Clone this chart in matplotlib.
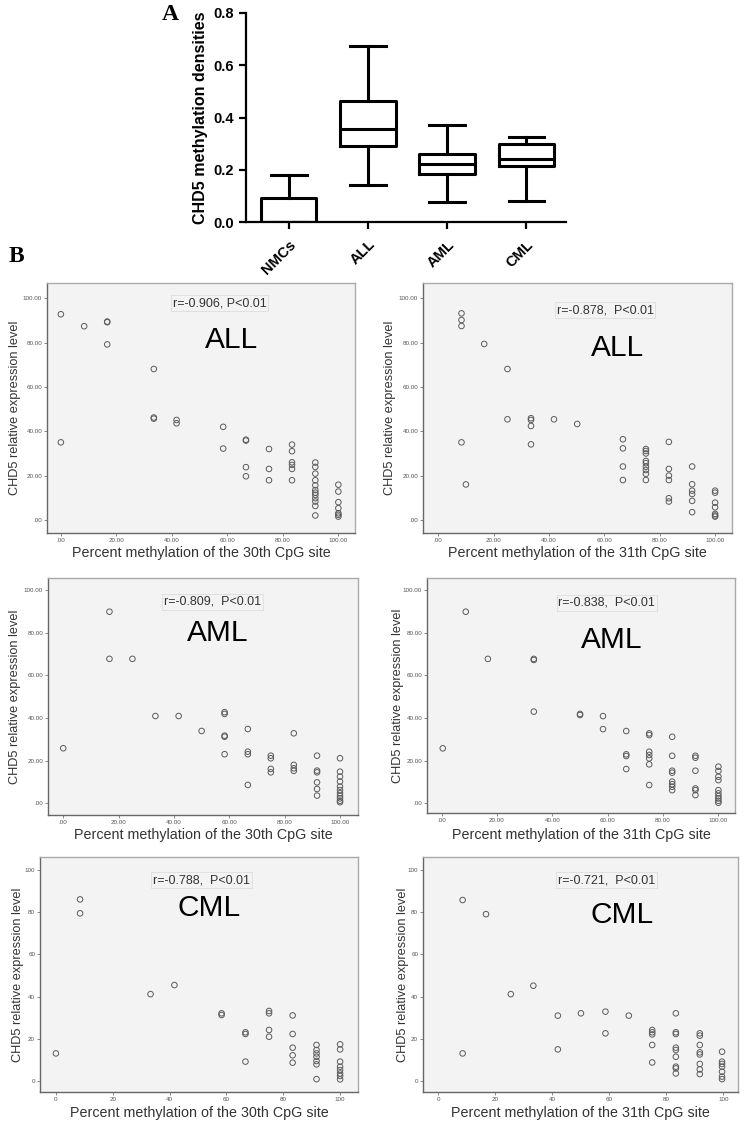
import matplotlib
matplotlib.use("Agg")
import matplotlib.pyplot as plt

plt.rcParams['font.family'] = ['Liberation Sans', 'DejaVu Sans']

# ---------------- Panel A data ----------------
box_labels = ["NMCs", "ALL", "AML", "CML"]
box_min = [0.0, 0.14, 0.075, 0.08]
box_q1 = [0.0, 0.29, 0.185, 0.215]
box_med = [0.0, 0.355, 0.222, 0.24]
box_q3 = [0.09, 0.465, 0.26, 0.30]
box_max = [0.18, 0.675, 0.37, 0.325]

# ---------------- Panel B data ----------------
all30_x = [0, 0, 8.4, 16.7, 16.7, 16.7, 33.5, 33.5, 33.5, 41.7, 41.7, 58.5, 58.5,
           66.7, 66.7, 66.7, 66.7, 75, 75, 75,
           83.3, 83.3, 83.3, 83.3, 83.3, 83.3,
           91.7, 91.7, 91.7, 91.7, 91.7, 91.7, 91.7, 91.7, 91.7, 91.7, 91.7, 91.7,
           100, 100, 100, 100, 100, 100, 100]
all30_y = [92.8, 35, 87.4, 89.5, 89.2, 79.2, 68.1, 45.7, 46.2, 45.1, 43.6, 42, 32.2,
           35.8, 36.2, 23.8, 19.7, 32, 23, 17.9,
           34, 31, 26, 24.8, 23, 17.9,
           25.9, 23.9, 20.9, 17.9, 15.6, 13.5, 12.3, 11.3, 9.8, 8.3, 6.3, 2,
           15.9, 12.8, 8, 5.3, 3, 2.3, 1.5]

all31_x = [8.4, 8.4, 8.4, 8.4, 10, 16.6, 25, 25, 33.5, 33.5, 33.5, 33.5, 41.8, 50.2,
           66.7, 66.7, 66.7, 66.7,
           75, 75, 75, 75, 75, 75, 75, 75, 75,
           83.3, 83.3, 83.3, 83.3, 83.3, 83.3,
           91.7, 91.7, 91.7, 91.7, 91.7, 91.7,
           100, 100, 100, 100, 100, 100, 100]
all31_y = [93.2, 90.2, 87.5, 35, 16, 79.4, 68.1, 45.4, 45.9, 45.1, 42.4, 34.1, 45.4, 43.3,
           36.4, 32.3, 24.1, 18,
           32, 31.1, 30, 26.6, 25.6, 24, 22.5, 20.8, 18,
           35.2, 23, 20, 18, 9.8, 8.3,
           24.1, 16.1, 13.2, 11.7, 8.6, 3.5,
           13.2, 12.3, 7.8, 5.7, 2.7, 2, 1.5]

aml30_x = [0, 16.7, 16.7, 25, 33.3, 41.7, 50, 58.3, 58.3, 58.3, 58.3, 58.3,
           66.7, 66.7, 66.7, 66.7, 75, 75, 75, 75, 83.3, 83.3, 83.3, 83.3,
           91.7, 91.7, 91.7, 91.7, 91.7, 91.7,
           100, 100, 100, 100, 100, 100, 100, 100, 100, 100, 100]
aml30_y = [25.8, 89.8, 67.7, 67.7, 40.9, 40.9, 33.9, 42.7, 41.9, 31.7, 31.2, 23,
           34.8, 24.2, 23, 8.6, 22.3, 21.1, 16.1, 14.5, 32.8, 18, 16.4, 15.2,
           22.3, 15.3, 14.5, 9.8, 6.7, 3.6,
           21.1, 14.8, 12.5, 10.2, 7.8, 6.2, 4.7, 3.4, 2.3, 1.2, 0.5]

aml31_x = [0.4, 8.7, 16.7, 33.3, 33.3, 33.3, 50, 50, 58.3, 58.3,
           66.7, 66.7, 66.7, 66.7, 75, 75, 75, 75, 75, 75, 75,
           83.3, 83.3, 83.3, 83.3, 83.3, 83.3, 83.3, 83.3,
           91.7, 91.7, 91.7, 91.7, 91.7, 91.7,
           100, 100, 100, 100, 100, 100, 100, 100, 100, 100]
aml31_y = [25.8, 89.8, 67.7, 67.7, 67.2, 43, 41.4, 41.9, 40.9, 34.8,
           33.9, 23, 22.2, 16.1, 32.8, 32, 24.2, 22.7, 21.1, 18.3, 8.6,
           31.2, 22.3, 15.3, 14.4, 10.2, 9, 7.8, 6.2,
           22.3, 21.4, 15.3, 7, 6.2, 3.9,
           17.2, 15.2, 12.5, 10.9, 6.2, 4.7, 3.4, 2.3, 1.2, 0.3]

cml30_x = [0, 8.5, 8.5, 33.3, 41.7, 58.3, 58.3, 66.7, 66.7, 66.7,
           75, 75, 75, 75, 83.3, 83.3, 83.3, 83.3, 83.3,
           91.7, 91.7, 91.7, 91.7, 91.7, 91.7, 91.7,
           100, 100, 100, 100, 100, 100, 100, 100]
cml30_y = [13.1, 86.1, 79.5, 41.2, 45.5, 32.1, 31.3, 23.1, 22.3, 9.2,
           33.2, 32.1, 24.2, 21, 31.1, 22.3, 15.8, 12.2, 8.7,
           17.1, 14.7, 13.1, 11.5, 9.5, 7.9, 0.9,
           17.4, 15, 9.2, 6.8, 5.2, 3.6, 2.4, 0.8]

cml31_x = [8.5, 8.5, 16.7, 25.4, 33.3, 41.9, 41.9, 50, 58.6, 58.6, 66.8,
           75, 75, 75, 75, 75,
           83.3, 83.3, 83.3, 83.3, 83.3, 83.3, 83.3, 83.3, 83.3,
           91.7, 91.7, 91.7, 91.7, 91.7, 91.7, 91.7, 91.7,
           99.5, 99.5, 99.5, 99.5, 99.5, 99.5, 99.5]
cml31_y = [85.8, 13.1, 79.1, 41.2, 45.2, 31, 15, 32.1, 32.9, 22.6, 31,
           24.2, 23.1, 22.1, 17.1, 8.8,
           32.1, 23.1, 22.3, 15.8, 14.7, 11.5, 6.8, 6, 3.6,
           22.6, 21.5, 17.1, 13.6, 12.6, 8.1, 5.5, 3.3,
           13.9, 9.2, 8.1, 6.8, 4.4, 2.1, 0.9]

r_texts = ["r=-0.906, P<0.01", "r=-0.878,  P<0.01", "r=-0.809,  P<0.01",
           "r=-0.838,  P<0.01", "r=-0.788,  P<0.01", "r=-0.721,  P<0.01"]
group_names = ["ALL", "ALL", "AML", "AML", "CML", "CML"]
x_titles = ["Percent methylation of the 30th CpG site",
            "Percent methylation of the 31th CpG site"] * 3

W, H = 745, 1125
fig = plt.figure(figsize=(W / 100, H / 100), dpi=100)


def px_axes(l, t, r, b):
    return fig.add_axes([l / W, 1 - b / H, (r - l) / W, (b - t) / H])


# ---------------- Panel A ----------------
axA = px_axes(246, 13, 566, 222)
stats = [dict(label=lab, whislo=lo, q1=q1, med=md, q3=q3, whishi=hi, fliers=[])
         for lab, lo, q1, md, q3, hi in zip(box_labels, box_min, box_q1, box_med, box_q3, box_max)]
lw = 2.2
axA.bxp(stats, positions=range(len(stats)), widths=0.7, showfliers=False, capwidths=0.45,
        boxprops=dict(color="black", linewidth=lw),
        whiskerprops=dict(color="black", linewidth=lw),
        capprops=dict(color="black", linewidth=lw),
        medianprops=dict(color="black", linewidth=lw))
axA.set_xlim(-0.54, 3.5)
axA.set_ylim(0, 0.8)
axA.spines[["top", "right"]].set_visible(False)
for s in ["left", "bottom"]:
    axA.spines[s].set_linewidth(1.6)
axA.set_yticks([0.0, 0.2, 0.4, 0.6, 0.8])
axA.set_yticklabels(["0.0", "0.2", "0.4", "0.6", "0.8"], fontweight="bold", fontsize=10.5)
axA.set_xticks(range(len(box_labels)))
axA.set_xticklabels(box_labels, rotation=45, ha="right", rotation_mode="anchor",
                    fontweight="bold", fontsize=10.5)
axA.tick_params(width=1.6, length=5)
axA.tick_params(axis="x", pad=6)
axA.set_ylabel("CHD5 methylation densities", fontweight="bold", fontsize=11.5, labelpad=4)

fig.text(170 / W, 1 - 15 / H, "A", family="Liberation Serif", fontweight="bold",
         fontsize=17, ha="center", va="center")
fig.text(16 / W, 1 - 257 / H, "B", family="Liberation Serif", fontweight="bold",
         fontsize=17, ha="center", va="center")

# ---------------- Panel B ----------------
scatter_data = [(all30_x, all30_y), (all31_x, all31_y), (aml30_x, aml30_y),
                (aml31_x, aml31_y), (cml30_x, cml30_y), (cml31_x, cml31_y)]
boxes = [(47, 283, 355, 533), (423, 283, 732, 533),
         (48, 578, 358, 815), (427, 578, 735, 813),
         (40, 857, 358, 1092), (423, 857, 738, 1092)]
xlims = [(-5.0, 106.0), (-5.5, 106.1), (-5.5, 106.5), (-5.3, 106.0), (-5.6, 106.3), (-5.4, 105.1)]
ylims = [(-5.9, 106.9), (-5.9, 106.9), (-5.5, 105.6), (-4.5, 105.6), (-5.2, 106.2), (-5.2, 106.2)]
r_pos = [(0.56, 0.92), (0.589, 0.892), (0.532, 0.899), (0.584, 0.894), (0.509, 0.902), (0.584, 0.902)]
g_pos = [(0.60, 0.772), (0.628, 0.74), (0.548, 0.768), (0.60, 0.736), (0.531, 0.783), (0.632, 0.753)]
ylab_x = [15, 390, 15, 398, 18, 403]
xlab_y = [553, 553, 835, 835, 1113, 1113]

ticks = [0, 20, 40, 60, 80, 100]
ticklab_dec = [".00", "20.00", "40.00", "60.00", "80.00", "100.00"]
ticklab_int = ["0", "20", "40", "60", "80", "100"]

for i, ((xs, ys), bx) in enumerate(zip(scatter_data, boxes)):
    ax = px_axes(*bx)
    ax.set_facecolor("#f3f3f3")
    ax.scatter(xs, ys, s=16, facecolors="none", edgecolors="#5a5a5a", linewidths=0.7, zorder=3)
    ax.set_xlim(*xlims[i])
    ax.set_ylim(*ylims[i])
    ax.set_xticks(ticks)
    ax.set_yticks(ticks)
    labs = ticklab_int if i >= 4 else ticklab_dec
    ax.set_xticklabels(labs, fontsize=4.5, color="#555")
    ax.set_yticklabels(labs, fontsize=4.5, color="#555")
    ax.tick_params(length=2, width=0.6, color="#777", pad=1.5)
    for s in ["left", "bottom"]:
        ax.spines[s].set_color("#666")
        ax.spines[s].set_linewidth(1.0)
    for s in ["top", "right"]:
        ax.spines[s].set_color("#aaa")
        ax.spines[s].set_linewidth(1.0)
    ax.text(*r_pos[i], r_texts[i], transform=ax.transAxes, ha="center", va="center",
            fontsize=9, color="#333",
            bbox=dict(boxstyle="square,pad=0.15", facecolor="none", edgecolor="#dddddd", linewidth=0.6))
    ax.text(*g_pos[i], group_names[i], transform=ax.transAxes, ha="center", va="center",
            fontsize=21.5, color="black")
    fig.text(ylab_x[i] / W, 1 - (bx[1] + bx[3]) / 2 / H, "CHD5 relative expression level",
             rotation=90, ha="center", va="center", fontsize=9.2, color="#333")
    fig.text((bx[0] + bx[2]) / 2 / W, 1 - xlab_y[i] / H, x_titles[i],
             ha="center", va="center", fontsize=10.3, color="#333")

fig.savefig("out.png", dpi=100)
